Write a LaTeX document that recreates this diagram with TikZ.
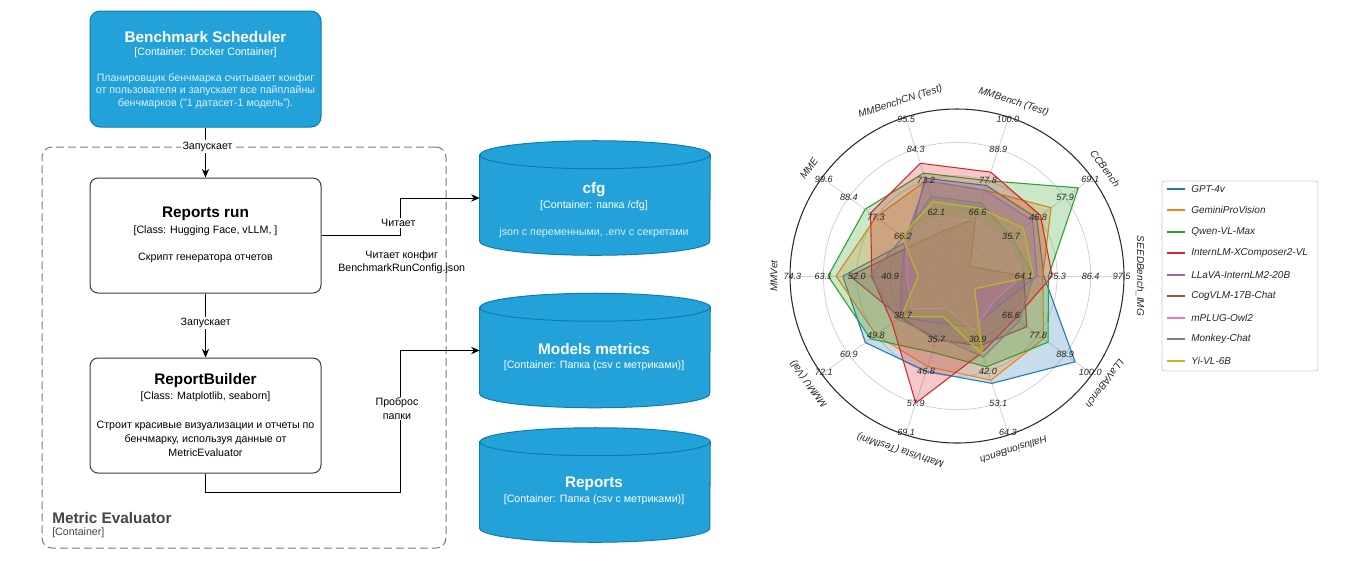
\documentclass[tikz,border=0pt]{standalone}
\usepackage{fontspec}
\setmainfont{Liberation Sans}
\definecolor{ctBlue}{HTML}{23A2D9}
\definecolor{ctEdge}{HTML}{0E7DAD}
\definecolor{ctDesc}{HTML}{DDF0FA}
\definecolor{ctLine}{HTML}{3A3A3A}
\definecolor{ctFrame}{HTML}{7A7A7A}
\definecolor{ctLabel}{HTML}{444444}
\definecolor{rdGrid}{HTML}{D2D2D2}
\definecolor{rdRim}{HTML}{2B2B2B}
\definecolor{rdTick}{HTML}{262626}
\definecolor{rdKey}{HTML}{CCCCCC}
\definecolor{mGpt}{HTML}{1F77B4}
\definecolor{mGemini}{HTML}{FF7F0E}
\definecolor{mQwen}{HTML}{2CA02C}
\definecolor{mIntern}{HTML}{D62728}
\definecolor{mLlava}{HTML}{9467BD}
\definecolor{mCog}{HTML}{8C564B}
\definecolor{mOwl}{HTML}{E377C2}
\definecolor{mMonkey}{HTML}{7F7F7F}
\definecolor{mYi}{HTML}{BCBD22}
\usepackage{tikz}
\usetikzlibrary{arrows.meta}

\tikzset{
  sysbox/.style={fill=ctBlue, draw=ctEdge, line width=0.75pt, rounded corners=7.5pt,
    minimum width=231*0.75pt, minimum height=116*0.75pt, inner sep=0pt},
  compbox/.style={fill=white, draw=ctLine, line width=0.75pt, rounded corners=6pt,
    minimum width=231*0.75pt, minimum height=115*0.75pt, inner sep=0pt},
  dbslot/.style={minimum width=230*0.75pt, minimum height=114*0.75pt, inner sep=0pt},
  framebox/.style={draw=ctFrame, line width=0.75pt, dash pattern=on 6pt off 3pt,
    rounded corners=7.5pt, minimum width=404*0.75pt, minimum height=401*0.75pt, inner sep=0pt},
  boxtitle/.style={font=\fontsize{11.5}{13}\selectfont\bfseries, inner sep=0pt},
  boxsub/.style={font=\fontsize{8}{9.5}\selectfont, inner sep=0pt},
  boxdesc/.style={font=\fontsize{8}{#1}\selectfont, align=center, inner sep=0pt},
  boxdesc/.default=9.4,
  flow/.style={draw=black, line width=0.75pt, -{Stealth[length=6.5pt, width=5.5pt]}},
  flowtag/.style={font=\fontsize{8}{10}\selectfont, fill=white, align=center, inner sep=1pt},
  flownote/.style={font=\fontsize{8}{10}\selectfont, align=center, inner sep=0pt},
  series/.style={draw=#1, fill=#1, fill opacity=0.25, line width=0.8pt, line join=round},
  ticklbl/.style={font=\fontsize{6.8}{8}\selectfont\itshape, text=rdTick, inner sep=0pt},
  axisname/.style={font=\fontsize{7.5}{9}\selectfont\itshape, text=rdTick, inner sep=0pt},
  keytext/.style={font=\fontsize{7.5}{9}\selectfont\itshape, text=rdTick, anchor=west, inner sep=0pt},
}

% cylinder drawn round an empty node
\newcommand\dbcyl[1]{%
  \filldraw[fill=ctBlue, draw=ctEdge, line width=0.75pt]
    ([yshift=-10.5pt]#1.north west) -- ([yshift=10.5pt]#1.south west)
    arc[start angle=180, end angle=360, x radius=86.25pt, y radius=10.5pt]
    -- ([yshift=-10.5pt]#1.north east)
    arc[start angle=0, end angle=180, x radius=86.25pt, y radius=10.5pt] -- cycle;
  \draw[ctEdge, line width=0.75pt] ([yshift=-10.5pt]#1.north west)
    arc[start angle=180, end angle=360, x radius=86.25pt, y radius=10.5pt];}

\begin{document}
\begin{tikzpicture}[x=0.75pt, y=0.75pt]
  \useasboundingbox (0,0) rectangle (1352,-562);

  % Metric Evaluator boundary
  \node[framebox] (evalFrame) at (244,-347.5) {};
  \node[anchor=west, inner sep=0pt, text=ctLabel, font=\fontsize{11.5}{13}\selectfont\bfseries]
    (evalName) at (52,-518) {Metric Evaluator};
  \node[anchor=west, inner sep=0pt, text=ctLabel, font=\fontsize{8}{9.5}\selectfont]
    (evalKind) at (52,-533) {[Container]};

  % -- Benchmark Scheduler --
  \node[sysbox] (sched) at (205.5,-69) {};
  \node[boxtitle, text=white] (schedTitle) at (205.5,-36.7) {Benchmark Scheduler};
  \node[boxsub, text=white] (schedSub) at (205.5,-52.3) {[Container: Docker Container]};
  \node[boxdesc, text=ctDesc] (schedDesc) at (205.5,-90.8) {
    Планировщик бенчмарка считывает конфиг\\
    от пользователя и запускает все пайплайны\\
    бенчмарков ("1 датасет-1 модель").};

  % -- Reports run --
  \node[compbox] (run) at (205.5,-235.5) {};
  \node[boxtitle] (runTitle) at (205.5,-214) {Reports run};
  \node[boxsub] (runSub) at (205.5,-230.7) {[Class: Hugging Face, vLLM, ]};
  \node[boxdesc] (runDesc) at (205.5,-257.7) {Скрипт генератора отчетов};

  % -- ReportBuilder --
  \node[compbox] (builder) at (205.5,-415.5) {};
  \node[boxtitle] (builderTitle) at (205.5,-380.7) {ReportBuilder};
  \node[boxsub] (builderSub) at (205.5,-396.7) {[Class: Matplotlib, seaborn]};
  \node[boxdesc=10.35] (builderDesc) at (205.5,-439) {
    Строит красивые визуализации и отчеты по\\
    бенчмарку, используя данные от\\
    MetricEvaluator};

  % -- Stores --
  \node[dbslot] (cfg) at (595,-198) {};
  \dbcyl{cfg}
  \node[boxtitle, text=white] (cfgTitle) at (594,-189.3) {cfg};
  \node[boxsub, text=white] (cfgSub) at (594,-205.7) {[Container: папка /cfg]};
  \node[boxdesc, text=ctDesc] (cfgDesc) at (594,-232.7) {json с переменными, .env с секретами};

  \node[dbslot] (metrics) at (595,-350.5) {};
  \dbcyl{metrics}
  \node[boxtitle, text=white] (metricsTitle) at (594,-349.3) {Models metrics};
  \node[boxsub, text=white] (metricsSub) at (594,-365.3) {[Container: Папка (csv с метриками)]};

  \node[dbslot] (reports) at (595,-485) {};
  \dbcyl{reports}
  \node[boxtitle, text=white] (reportsTitle) at (594,-484) {Reports};
  \node[boxsub, text=white] (reportsSub) at (594,-499.3) {[Container: Папка (csv с метриками)]};

  % -- Connectors --
  \draw[flow] (sched.south) -- (run.north);
  \node[flowtag] (tagLaunchA) at (207.5,-146.5) {Запускает};

  \coordinate (readBend) at (400,-235.5);
  \draw[flow] (run.east) -- (readBend) |- (cfg.west);
  \node[flowtag] (tagRead) at (398.3,-223.3) {Читает};
  \node[flownote] (tagReadNote) at (401.7,-262.3) {Читает конфиг\\BenchmarkRunConfig.json};

  \draw[flow] (run.south) -- (builder.north);
  \node[flowtag] (tagLaunchB) at (205.7,-323.3) {Запускает};

  \coordinate (mountBend) at (400,-492);
  \draw[flow] (builder.south) |- (mountBend) |- (metrics.west);
  \node[flowtag] (tagMount) at (397,-408.5) {Проброс\\папки};

  % -- Radar chart --
  \begin{scope}[shift={(957,-276)}, x=25.05pt, y=25.05pt]
    \foreach \k in {1,...,4} \draw[rdGrid, line width=0.6pt] (0,0) circle (\k);
    \foreach \a in {0,36,...,324} \draw[rdGrid, line width=0.6pt] (0,0) -- (\a:5);
    \draw[rdRim, line width=0.8pt] (0,0) circle (5);

    % axes: SEED, CC, MMB, MMB-CN, MME, MMVet, MMMU, MathVista, Hallusion, LLaVA
    \filldraw[series=mGpt] (0:2.6) -- (36:2.95) -- (72:2.85) -- (108:3.08) -- (144:1.79)
      -- (180:3.42) -- (216:3.39) -- (252:3.0) -- (288:3.38) -- (324:4.37) -- cycle;
    \filldraw[series=mGemini] (0:2.57) -- (36:3.48) -- (72:2.7) -- (108:3.0) -- (144:3.0)
      -- (180:3.62) -- (216:3.0) -- (252:2.85) -- (288:3.28) -- (324:3.2) -- cycle;
    \filldraw[series=mQwen] (0:2.74) -- (36:4.49) -- (72:3.0) -- (108:3.24) -- (144:3.4)
      -- (180:3.86) -- (216:3.2) -- (252:2.4) -- (288:2.86) -- (324:3.37) -- cycle;
    \filldraw[series=mIntern] (0:2.85) -- (36:3.09) -- (72:3.27) -- (108:3.55) -- (144:3.2)
      -- (180:2.55) -- (216:2.4) -- (252:4.0) -- (288:2.41) -- (324:2.16) -- cycle;
    \filldraw[series=mLlava] (0:2.4) -- (36:2.8) -- (72:2.7) -- (108:3.0) -- (144:1.9)
      -- (180:1.66) -- (216:2.1) -- (252:1.5) -- (288:1.6) -- (324:1.54) -- cycle;
    \filldraw[series=mCog] (0:2.0) -- (36:0.48) -- (72:1.81) -- (108:1.4) -- (144:1.6)
      -- (180:3.2) -- (216:2.1) -- (252:2.0) -- (288:2.2) -- (324:2.58) -- cycle;
    \filldraw[series=mOwl] (0:1.94) -- (36:1.84) -- (72:1.76) -- (108:1.82) -- (144:1.89)
      -- (180:1.5) -- (216:1.67) -- (252:1.02) -- (288:1.71) -- (324:1.33) -- cycle;
    \filldraw[series=mMonkey] (0:2.3) -- (36:2.0) -- (72:2.3) -- (108:2.5) -- (144:2.0)
      -- (180:2.6) -- (216:2.2) -- (252:1.9) -- (288:2.55) -- (324:2.3) -- cycle;
    \filldraw[series=mYi] (0:2.29) -- (36:2.45) -- (72:2.14) -- (108:2.34) -- (144:2.04)
      -- (180:1.16) -- (216:2.06) -- (252:1.29) -- (288:2.48) -- (324:0.65) -- cycle;

    % ring values on every axis
    \foreach \a/\ra/\rb/\rc/\rd in {0/64.1/75.3/86.4/97.5, 36/35.7/46.8/57.9/69.1,
        72/66.6/77.8/88.9/100.0, 108/62.1/73.2/84.3/95.5, 144/66.2/77.3/88.4/99.6,
        180/40.9/52.0/63.1/74.3, 216/38.7/49.8/60.9/72.1, 252/35.7/46.8/57.9/69.1,
        288/30.9/42.0/53.1/64.3, 324/66.6/77.8/88.9/100.0} {
      \node[ticklbl] (tk\a-2) at (\a:2) {\ra};
      \node[ticklbl] (tk\a-3) at (\a:3) {\rb};
      \node[ticklbl] (tk\a-4) at (\a:4) {\rc};
      \node[ticklbl] (tk\a-5) at (\a:4.93) {\rd};
    }

    % axis names
    \foreach \a/\name in {0/SEEDBench\_IMG, 36/CCBench, 72/MMBench (Test),
        108/MMBenchCN (Test), 144/MME, 180/MMVet, 216/MMMU (Val),
        252/MathVista (TestMini), 288/HallusionBench, 324/LLaVABench}
      \node[axisname, rotate=\a-90] (ax\a) at (\a:5.48) {\name};
  \end{scope}

  % -- Legend --
  \node[draw=rdKey, line width=0.6pt, rounded corners=1.5pt, minimum width=156*0.75pt,
    minimum height=190*0.75pt, inner sep=0pt] (legend) at (1240,-276) {};
  \foreach \c/\name [count=\i from 0] in {mGpt/GPT-4v, mGemini/GeminiProVision,
      mQwen/Qwen-VL-Max, mIntern/InternLM-XComposer2-VL, mLlava/LLaVA-InternLM2-20B,
      mCog/CogVLM-17B-Chat, mOwl/mPLUG-Owl2, mMonkey/Monkey-Chat, mYi/Yi-VL-6B} {
    \draw[\c, line width=1.2pt] (1167,{-189-int(21.5*\i)}) -- (1185,{-189-int(21.5*\i)});
    \node[keytext] (key\i) at (1191,{-189-int(21.5*\i)}) {\name};
  }
\end{tikzpicture}
\end{document}
